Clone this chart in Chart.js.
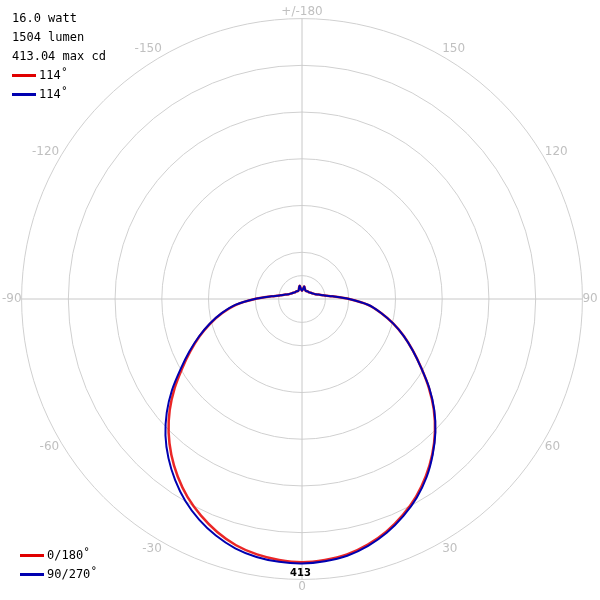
<!DOCTYPE html>
<html>
<head>
<meta charset="utf-8">
<script src="https://cdn.jsdelivr.net/npm/chart.js@4"></script>
<style>
    body { margin: 0; background: #fff; }
    #wrap { position: relative; width: 600px; height: 600px; }
    .info { position: absolute; font-family: 'DejaVu Sans Mono', monospace; font-size: 12px; color: #000; line-height: 19px; }
    .info .sw { display: inline-block; width: 24px; height: 3px; vertical-align: middle; margin-right: 3px; }
    #maxlabel { position: absolute; left: 290px; top: 567px; font-family: 'DejaVu Sans', sans-serif; font-size: 10px; font-weight: bold; }
</style>
</head>
<body>
<div id="wrap">
    <canvas id="polar" width="600" height="600"></canvas>
    <div class="info" style="left:12px; top:9px;">
        16.0 watt<br>1504 lumen<br>413.04 max cd<br>
        <span class="sw" style="background:#e00000"></span>114˚<br>
        <span class="sw" style="background:#0000b0"></span>114˚
    </div>
    <div class="info" style="left:20px; top:546px;">
        <span class="sw" style="background:#e00000"></span>0/180˚<br>
        <span class="sw" style="background:#0000b0"></span>90/270˚
    </div>
    <div id="maxlabel">413</div>
</div>
<script>
// gamma angle (0 = straight down) in 5 degree steps
const GAMMAS = [0, 5, 10, 15, 20, 25, 30, 35, 40, 45, 50, 55, 60, 65, 70, 75, 80, 85, 90,
    95, 100, 105, 110, 115, 120, 125, 130, 135, 140, 145, 150, 155, 160, 165, 170, 175, 180];

// candela values, 0/180 plane
const RED_RIGHT = [413, 411, 407, 399, 388, 374, 358, 339, 318, 295, 270, 243, 216, 192, 170, 148, 126, 104, 74,
    48, 34, 27, 22, 20, 18, 17, 16, 15, 15, 15, 14, 14, 15, 17, 20, 15, 13];
const RED_LEFT = [413, 411, 407, 400, 389, 375, 359, 340, 319, 296, 271, 244, 217, 193, 171, 149, 127, 104, 74,
    48, 34, 27, 22, 20, 18, 17, 16, 15, 15, 15, 14, 14, 15, 18, 21, 15, 13];

// candela values, 90/270 plane
const BLUE_RIGHT = [415, 413, 409, 401, 390, 376, 360, 341, 319, 296, 271, 244, 216, 192, 170, 148, 126, 104, 74,
    48, 34, 27, 22, 20, 18, 17, 16, 15, 15, 15, 14, 14, 15, 17, 20, 15, 13];
const BLUE_LEFT = [415, 414, 411, 405, 395, 382, 366, 347, 326, 303, 277, 249, 220, 195, 172, 150, 128, 105, 74,
    48, 34, 27, 22, 20, 18, 17, 16, 15, 15, 15, 14, 14, 15, 18, 21, 15, 13];

const SCALE_MAX = 440;
const RING_VALUES = [0, 36.67, 73.33, 146.67, 220, 293.33, 366.67, 440];

// radar goes clockwise from top: 180 ... 0 on the right, then -5 ... -175 on the left
const labels = [];
function buildSeries(right, left) {
    const out = [];
    for (let i = 0; i < 72; i++) {
        const g = 180 - 5 * i;
        if (g >= 0) out.push(right[GAMMAS.indexOf(g)]);
        else out.push(left[GAMMAS.indexOf(-g)]);
    }
    return out;
}
for (let i = 0; i < 72; i++) {
    const g = 180 - 5 * i;
    if (g === 180) labels.push('+/-180');
    else if (g % 30 === 0) labels.push(String(g));
    else labels.push('');
}

new Chart(document.getElementById('polar'), {
    type: 'radar',
    data: {
        labels: labels,
        datasets: [
            {
                label: '90/270',
                data: buildSeries(BLUE_RIGHT, BLUE_LEFT),
                borderColor: '#0000b0',
                borderWidth: 2,
                pointRadius: 0,
                fill: false,
                tension: 0.2
            },
            {
                label: '0/180',
                data: buildSeries(RED_RIGHT, RED_LEFT),
                borderColor: 'rgba(230, 0, 0, 0.85)',
                borderWidth: 2.5,
                pointRadius: 0,
                fill: false,
                tension: 0.2
            }
        ]
    },
    options: {
        responsive: false,
        animation: false,
        layout: { padding: { top: 0, bottom: 2, left: 0, right: 0 } },
        plugins: { legend: { display: false }, tooltip: { enabled: false } },
        scales: {
            r: {
                min: 0,
                max: SCALE_MAX,
                afterBuildTicks: (scale) => { scale.ticks = RING_VALUES.map(v => ({ value: v })); },
                ticks: { display: false },
                grid: { circular: true, color: '#d0d0d0' },
                angleLines: {
                    color: (ctx) => (ctx.index % 18 === 0 ? '#c8c8c8' : 'rgba(0,0,0,0)')
                },
                pointLabels: {
                    font: { family: 'DejaVu Sans', size: 12 },
                    color: '#c0c0c0',
                    padding: 0
                }
            }
        }
    }
});
</script>
</body>
</html>
